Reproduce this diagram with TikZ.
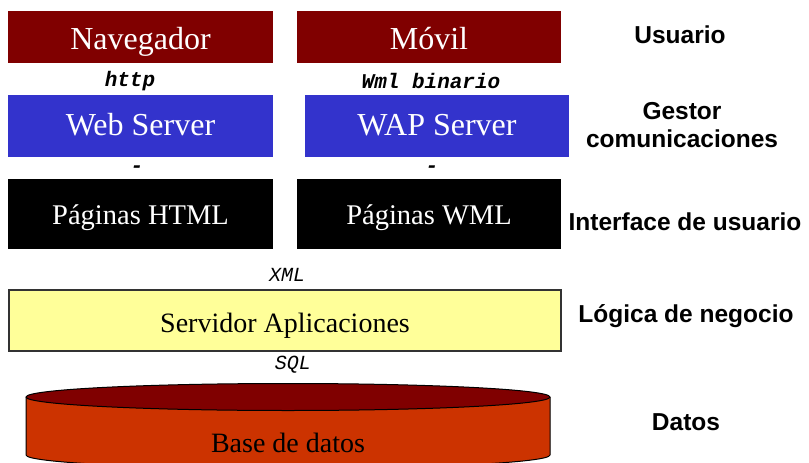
\documentclass[tikz,border=0pt]{standalone}
\usepackage{fontspec}
\setmainfont{Liberation Serif}
\newfontfamily\labfont{Liberation Sans}
\newfontfamily\protofont{Liberation Mono}
\definecolor{boxred}{HTML}{800000}
\definecolor{boxblue}{HTML}{3333CC}
\definecolor{boxyellow}{HTML}{FFFF99}
\definecolor{cylbody}{HTML}{CC3300}
\definecolor{cyltop}{HTML}{800000}
\tikzset{
  layerbox/.style={rectangle, inner sep=0pt, outer sep=0pt, text=white,
    text depth=0pt, font=\fontsize{32}{36}\selectfont},
  userbox/.style={layerbox, fill=boxred, minimum height=52pt, text height=24pt},
  commbox/.style={layerbox, fill=boxblue, minimum height=62pt, text height=18pt},
  uibox/.style={layerbox, fill=black, minimum height=70pt, text height=20pt,
    font=\fontsize{28.5}{32}\selectfont},
  appbox/.style={rectangle, inner sep=0pt, fill=boxyellow, draw=black!80,
    line width=1.5pt, text=black, minimum width=552pt, minimum height=61pt,
    text height=23pt, text depth=0pt, font=\fontsize{28}{32}\selectfont},
  proto/.style={inner sep=0pt, font=\protofont\bfseries\itshape\fontsize{21}{24}\selectfont},
  protoplain/.style={inner sep=0pt, font=\protofont\itshape\fontsize{20}{24}\selectfont},
  layerlabel/.style={inner sep=0pt, anchor=base, align=center,
    font=\labfont\bfseries\fontsize{24.5}{28}\selectfont},
  cylline/.style={draw=black, line width=1pt}
}
\begin{document}
\begin{tikzpicture}[x=1pt,y=1pt]
\useasboundingbox (0,0) rectangle (809,-463);
\fill[white] (0,0) rectangle (809,-463);

% Usuario row
\node[userbox, minimum width=265pt] (nav) at (140.5,-37) {Navegador};
\node[userbox, minimum width=264pt] (movil) at (429,-37) {Móvil};

% protocol labels
\node[proto] (http) at (130,-81) {http};
\node[proto] (wml) at (431,-81) {Wml binario};

% Gestor comunicaciones row
\node[commbox, minimum width=265pt] (web) at (140.5,-126) {Web Server};
\node[commbox, minimum width=264pt] (wap) at (437,-126) {WAP Server};

% dashes
\node[proto] (dash1) at (137,-169) {-};
\node[proto] (dash2) at (432,-169) {-};

% Interface row
\node[uibox, minimum width=265pt] (html) at (140.5,-214) {Páginas HTML};
\node[uibox, minimum width=264pt] (wmlp) at (429,-214) {Páginas WML};

\node[protoplain] (xml) at (287,-275) {XML};

% Logica de negocio
\node[appbox] (app) at (285,-320.5) {Servidor Aplicaciones};

\node[protoplain] (sql) at (293,-365) {SQL};

% Database cylinder
\fill[cylbody] (26,-397) -- (26,-455)
  arc[start angle=180, end angle=360, x radius=262, y radius=13.5]
  -- (550,-397) -- cycle;
\draw[cylline] (26,-397) -- (26,-455)
  arc[start angle=180, end angle=360, x radius=262, y radius=13.5]
  -- (550,-397);
\filldraw[cylline, fill=cyltop] (288,-397) ellipse [x radius=262, y radius=13.5];
\node[inner sep=0pt, anchor=base, font=\fontsize{28}{32}\selectfont] (db) at (288,-452) {Base de datos};

% Layer labels
\node[layerlabel] (lusr) at (680,-43) {Usuario};
\node[layerlabel, anchor=center] (lcom) at (682,-125) {Gestor\\comunicaciones};
\node[layerlabel] (lui) at (685,-230) {Interface de usuario};
\node[layerlabel] (llog) at (686,-322) {Lógica de negocio};
\node[layerlabel] (ldat) at (686,-430) {Datos};
\end{tikzpicture}
\end{document}
